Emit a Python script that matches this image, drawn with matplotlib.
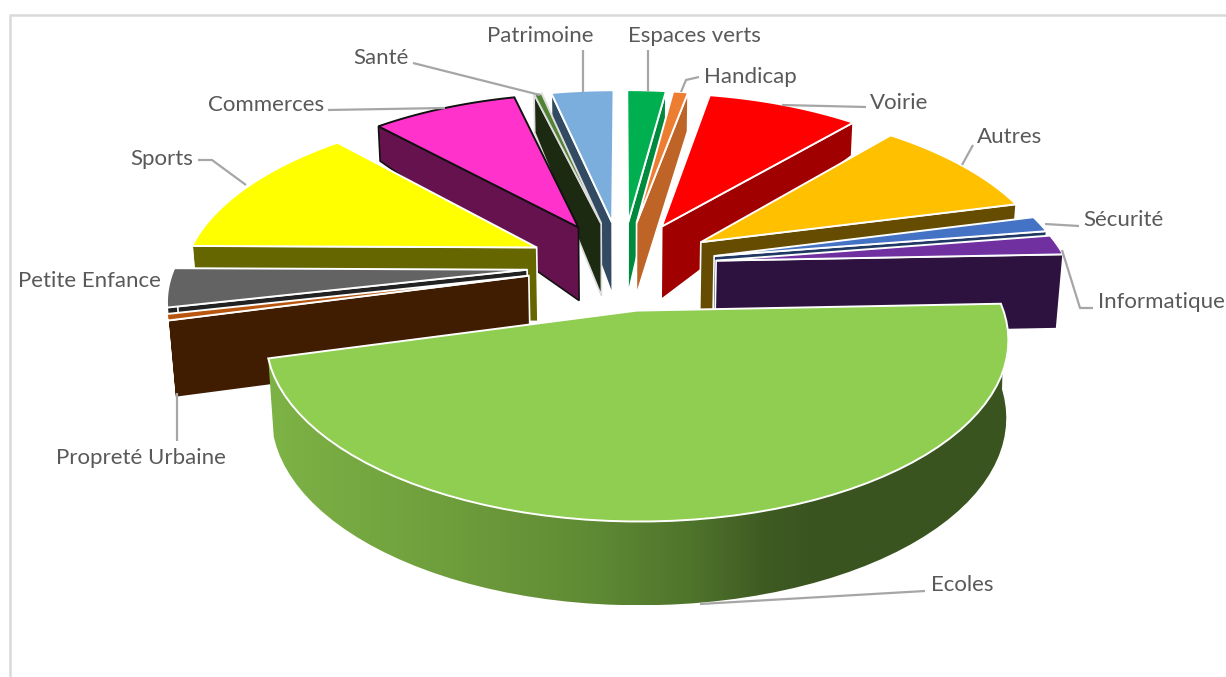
import matplotlib

matplotlib.use("Agg")
import matplotlib.pyplot as plt
import numpy as np
from matplotlib.colors import LinearSegmentedColormap
from matplotlib.patches import Polygon

plt.rcParams["font.family"] = ["Lato", "DejaVu Sans"]

# clockwise from 12 o'clock
names = [
    "Espaces verts", "Handicap", "Voirie", "Autres", "Sécurité", "Informatique", "Ecoles",
    "Propreté Urbaine", "Petite Enfance", "Sports", "Commerces", "Santé", "Patrimoine",
]
shares = [2.15, 0.83, 8.4, 9.6, 1.5, 1.9, 46.47, 0.6, 3.7, 12.9, 8.05, 0.43, 3.47]
top_colors = [
    "#00B050", "#ED7D31", "#FF0000", "#FFC000", "#4472C4", "#7030A0", "#8FCE50",
    "#B8560F", "#636363", "#FFFF00", "#FF33CC", "#548235", "#7BAEDD",
]
wall_colors = [
    "#008A3E", "#BD6426", "#A00000", "#654C00", "#1F3864", "#2D1240", "#5A8A33",
    "#401C00", "#222222", "#666600", "#66124F", "#1C2A12", "#324B62",
]
edge_colors = ["white"] * 10 + ["#111111", "#DDDDDD", "white"]

# label, x, y, ha, leader line
labels = [
    ("Espaces verts", 694, 36, "center", [(648, 50), (648, 92)]),
    ("Handicap", 704, 77, "left", [(699, 77), (686, 80), (681, 92)]),
    ("Voirie", 870, 103, "left", [(866, 107), (782, 105)]),
    ("Autres", 977, 137, "left", [(973, 145), (962, 165)]),
    ("Sécurité", 1083, 220, "left", [(1079, 226), (1045, 224)]),
    ("Informatique", 1098, 302, "left", [(1093, 308), (1080, 308), (1062, 250)]),
    ("Ecoles", 931, 585, "left", [(925, 591), (700, 604)]),
    ("Propreté Urbaine", 56, 458, "left", [(177, 441), (177, 393)]),
    ("Petite Enfance", 18, 281, "left", []),
    ("Sports", 130, 159, "left", [(198, 160), (212, 160), (246, 185)]),
    ("Commerces", 208, 105, "left", [(328, 110), (445, 108)]),
    ("Santé", 353, 58, "left", [(413, 63), (540, 95)]),
    ("Patrimoine", 487, 36, "left", [(583, 50), (583, 92)]),
]

CX, CY = 622, 265
A, B, T, T_REAR = 352, 164, 0.15, 0.178
EXPLODE = 0.27
TEXT_COLOR = "#595959"
LEADER_COLOR = "#A6A6A6"

ecoles_wall = LinearSegmentedColormap.from_list(
    "ecoles",
    [(0.0, "#7DB346"), (0.25, "#6E9D3C"), (0.44, "#5F8A34"), (0.57, "#4F742B"),
     (0.67, "#3F5B23"), (0.74, "#3A5420"), (1.0, "#3A5420")],
)


def project(x, y):
    d = 1 + T * y
    dx = 1 + np.where(np.asarray(y) > 0, T_REAR, T) * y
    return CX + A * x / dx, CY - B * y / d


def wall_height(y):
    # rear of the pie is flattened a lot in the original
    return np.interp(y, [-1.3, 0.25, 1.0, 1.3], [84, 73, 33, 40])


def wall_bottom(sx, sy, y, lean=0.0002):
    # walls lean inwards a little going down
    h = wall_height(y)
    return CX + (sx - CX) * (1 - lean * h), sy + h


def rim(a0, a1, ex, ey, n=60):
    t = np.radians(np.linspace(a0, a1, n))
    return ex + np.sin(t), ey + np.cos(t)


def cut_wall(ax, a, ex, ey, color, edge):
    x1, y1 = ex + np.sin(np.radians(a)), ey + np.cos(np.radians(a))
    ax0, ay0 = project(ex, ey)
    rx, ry = project(x1, y1)
    pts = [(ax0, ay0), (rx, ry), wall_bottom(rx, ry, y1), wall_bottom(ax0, ay0, ey)]
    ax.add_patch(Polygon(pts, closed=True, fc=color, ec=edge, lw=1.2))


fig = plt.figure(figsize=(12.26, 6.77), dpi=100)
ax = fig.add_axes([0, 0, 1, 1])
ax.set_xlim(0, 1226)
ax.set_ylim(677, 0)
ax.axis("off")

# chart frame
ax.plot([9.5, 9.5, 1226], [677, 14.5, 14.5], color="#D9D9D9", lw=1.8)

degrees = np.array(shares) / np.sum(shares) * 360
ends = np.cumsum(degrees)
starts = ends - degrees
mids = (starts + ends) / 2

# far slices first
order = np.argsort(-np.cos(np.radians(mids)))
for i in order:
    a0, a1 = starts[i], ends[i]
    ex = EXPLODE * np.sin(np.radians(mids[i]))
    ey = EXPLODE * np.cos(np.radians(mids[i]))
    edge = edge_colors[i]

    if np.sin(np.radians(a1)) > 0:
        cut_wall(ax, a1, ex, ey, wall_colors[i], edge)
    if np.sin(np.radians(a0)) < 0:
        cut_wall(ax, a0, ex, ey, wall_colors[i], edge)

    xs, ys = rim(a0, a1, ex, ey)
    px, py = project(xs, ys)

    # outer wall, only the front part shows
    front = np.cos(np.radians(np.linspace(a0, a1, 60))) < 0.02
    if front.any():
        fx, fy = px[front], py[front]
        if names[i] == "Ecoles":
            bx, by = wall_bottom(fx, fy, ys[front], lean=np.where(fx > CX, 0.00007, 0.0002))
        else:
            bx, by = wall_bottom(fx, fy, ys[front])
        pts = list(zip(fx, fy)) + list(zip(bx[::-1], by[::-1]))
        if names[i] == "Ecoles":
            wall = Polygon(pts, closed=True, fc="none", ec="none")
            ax.add_patch(wall)
            grad = ax.imshow(
                np.linspace(0, 1, 256)[None, :],
                cmap=ecoles_wall,
                extent=[px.min(), px.max(), by.max(), fy.min()],
                aspect="auto",
                zorder=1,
            )
            grad.set_clip_path(wall)
            ax.set_xlim(0, 1226)
            ax.set_ylim(677, 0)
        else:
            ax.add_patch(Polygon(pts, closed=True, fc=wall_colors[i], ec=edge, lw=1.2))

    # top face
    apex = project(ex, ey)
    pts = [apex] + list(zip(px, py))
    ax.add_patch(Polygon(pts, closed=True, fc=top_colors[i], ec=edge, lw=1.4, zorder=1.5))

for name, x, y, ha, leader in labels:
    if leader:
        ax.plot(*zip(*leader), color=LEADER_COLOR, lw=1.6, solid_capstyle="butt", zorder=2)
    ax.text(x, y, name, ha=ha, va="center", fontsize=16, color=TEXT_COLOR, zorder=3)

fig.savefig("out.png", dpi=100)
